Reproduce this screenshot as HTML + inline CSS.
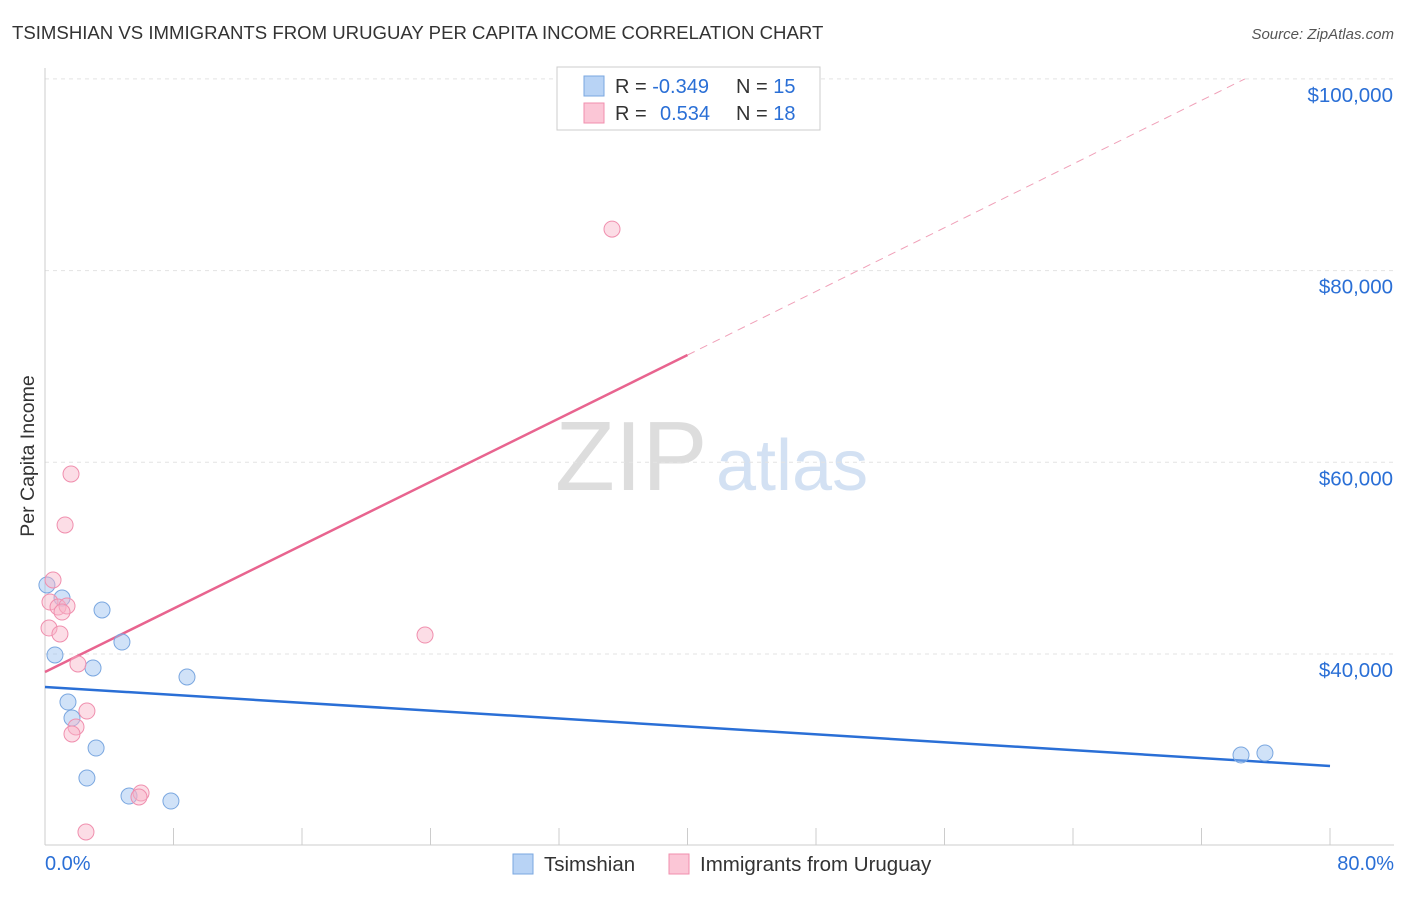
<!DOCTYPE html>
<html><head><meta charset="utf-8"><style>
body{margin:0;background:#fff;font-family:"Liberation Sans",sans-serif;}
svg text{font-family:"Liberation Sans",sans-serif;}
</style></head><body>
<svg id="c" width="1406" height="892">
<text x="12" y="39" font-size="18.6" fill="#333">TSIMSHIAN VS IMMIGRANTS FROM URUGUAY PER CAPITA INCOME CORRELATION CHART</text>
<text x="1394" y="39" font-size="15" fill="#555" font-style="italic" text-anchor="end">Source: ZipAtlas.com</text>
<text x="34" y="456" font-size="19.5" fill="#333" text-anchor="middle" transform="rotate(-90 34 456)">Per Capita Income</text>
<text x="555" y="490" font-size="98" fill="#ddd" font-family="Liberation Serif">ZIP</text>
<text x="716" y="490" font-size="72" fill="#d3e1f3">atlas</text>
<g id="grid"></g><g id="axes"></g><g id="trend"></g><g id="pts"></g>
<g>
<rect x="557" y="67" width="263" height="63" fill="#fff" stroke="#ccc"/>
<rect x="584" y="76" width="20" height="20" fill="#b8d3f5" stroke="#7aa7e0"/>
<rect x="584" y="103" width="20" height="20" fill="#fbc6d6" stroke="#f08fae"/>
<text x="615" y="93" font-size="20" fill="#333">R = <tspan fill="#2a6fd6">-0.349</tspan><tspan x="736">N = </tspan><tspan fill="#2a6fd6">15</tspan></text>
<text x="615" y="120" font-size="20" fill="#333">R = <tspan x="660" fill="#2a6fd6">0.534</tspan><tspan x="736">N = </tspan><tspan fill="#2a6fd6">18</tspan></text>
</g>
<g>
<rect x="513" y="854" width="20" height="20" fill="#b8d3f5" stroke="#7aa7e0"/>
<text x="544" y="871" font-size="20.5" fill="#333">Tsimshian</text>
<rect x="669" y="854" width="20" height="20" fill="#fbc6d6" stroke="#f08fae"/>
<text x="700" y="871" font-size="20.5" fill="#333">Immigrants from Uruguay</text>
</g>
</svg>
<script>
const yTicks=[40000,60000,80000,100000];
const xTickLabels=["0.0%","80.0%"];
const blueX=[0.12,1.06,3.55,0.62,4.79,2.99,8.84,1.43,1.68,3.18,2.61,5.23,7.84,74.46,75.95];
const blueY=[47200,45840,44590,39900,41250,38540,37600,34990,33320,30190,27060,25180,24660,29460,29670];
const pinkX=[35.30,1.62,1.25,0.50,0.31,0.81,1.37,0.25,0.93,23.66,2.05,2.61,1.93,1.68,5.98,5.85,2.55,1.06];
const pinkY=[84330,58780,53460,47720,45420,44900,45010,42710,42090,41980,38960,34050,32390,31660,25500,25080,21430,44380];
const blueTrend=[[0,36560],[80,28320]];
const pinkTrend=[[0,38120],[40,71190]];
const pinkTrendExt=[[40,71190],[74.7,100000]];
const NS="http://www.w3.org/2000/svg";
const X=v=>45+v/80*1285, Y=v=>654-(v-40000)*191.7/20000;
function mk(t,a,p){const e=document.createElementNS(NS,t);for(const k in a)e.setAttribute(k,a[k]);p.appendChild(e);return e;}
const g=document.getElementById('grid'),ax=document.getElementById('axes'),tr=document.getElementById('trend'),pt=document.getElementById('pts');
yTicks.forEach(v=>{
const l=mk('line',{x1:45,x2:1394,y1:Y(v),y2:Y(v),stroke:'#e3e3e3','stroke-dasharray':'4,4'},g);


const t=mk('text',{x:1393,y:Y(v)+23,'font-size':20.5,fill:'#2a6fd6','text-anchor':'end'},g);
t.textContent='$'+v.toLocaleString('en-US');


});
mk('line',{x1:45,x2:45,y1:68,y2:845,stroke:'#ccc'},ax);
mk('line',{x1:45,x2:1394,y1:845,y2:845,stroke:'#ccc'},ax);
for(let i=0;i<=10;i++){const l=mk('line',{x1:X(i*8),x2:X(i*8),y1:828,y2:845,stroke:'#ccc'},ax);

}
[[0,'start',45],[80,'end',1394]].forEach((d,i)=>{const t=mk('text',{x:d[2],y:870,'font-size':20,fill:'#2a6fd6','text-anchor':d[1]},ax);t.textContent=xTickLabels[i];

});
function line(d,c,dash,name){const l=mk('line',{x1:X(d[0][0]),y1:Y(d[0][1]),x2:X(d[1][0]),y2:Y(d[1][1]),stroke:c,'stroke-width':dash?1:2.5},tr);if(dash)l.setAttribute('stroke-dasharray','8,6');

}
line(blueTrend,'#2a6fd6',false,'tsimshian-trend-line');
line(pinkTrend,'#e8648f',false,'uruguay-trend-line');
line(pinkTrendExt,'#f0a0b8',true,'uruguay-trend-extension');
blueX.forEach((x,i)=>{const c=mk('circle',{cx:X(x),cy:Y(blueY[i]),r:8,fill:'rgba(150,190,240,0.45)',stroke:'#7aa7e0'},pt);

});
pinkX.forEach((x,i)=>{const c=mk('circle',{cx:X(x),cy:Y(pinkY[i]),r:8,fill:'rgba(248,180,200,0.45)',stroke:'#f08fae'},pt);

});
</script>
</body></html>
